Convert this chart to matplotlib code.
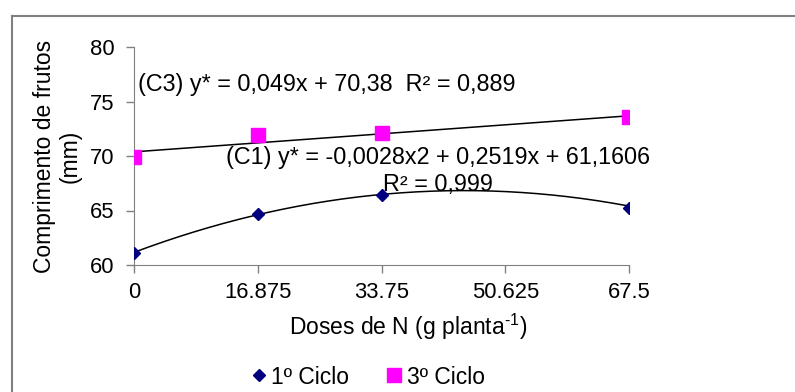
import numpy as np
import matplotlib.pyplot as plt
from matplotlib.lines import Line2D

plt.rcParams['font.family'] = ['Liberation Sans', 'DejaVu Sans']
plt.rcParams['mathtext.fontset'] = 'custom'
plt.rcParams['mathtext.rm'] = 'Liberation Sans'
plt.rcParams['mathtext.it'] = 'Liberation Sans:italic'

# data
doses = [0, 16.875, 33.75, 67.5]
ciclo1 = [61.1, 64.7, 66.4, 65.2]
ciclo3 = [69.9, 71.9, 72.1, 73.6]
xticks = [0, 16.875, 33.75, 50.625, 67.5]
xtick_labels = ['0', '16.875', '33.75', '50.625', '67.5']
yticks = [60, 65, 70, 75, 80]

# trendline coefficients as printed on the chart
coef_c1 = [-0.0028, 0.2519, 61.1606]
coef_c3 = [0.049, 70.38]

fig = plt.figure(figsize=(7.95, 3.92), dpi=100)
ax = fig.add_axes([134 / 795, 1 - 265 / 392, (629 - 134) / 795, (265 - 47) / 392])

xs = np.linspace(0, 67.5, 200)
ax.plot(xs, np.polyval(coef_c3, xs), color='black', lw=1.1, zorder=2)
ax.plot(xs, np.polyval(coef_c1, xs), color='black', lw=1.1, zorder=2)

ax.plot(doses, ciclo1, 'D', color='#000080', ms=6.5, ls='none',
        label='1º Ciclo', zorder=3)
ax.plot(doses, ciclo3, 's', color='#FF00FF', ms=10.5, ls='none',
        label='3º Ciclo', zorder=3)

ax.set_xlim(0, 67.5)
ax.set_ylim(60, 80)
ax.set_xticks(xticks)
ax.set_xticklabels(xtick_labels)
ax.set_yticks(yticks)
ax.tick_params(labelsize=15.8, color='#808080', length=6, width=1)
ax.tick_params(axis='x', pad=6)
ax.tick_params(axis='y', pad=8)

for side in ['top', 'right']:
    ax.spines[side].set_visible(False)
for side in ['left', 'bottom']:
    ax.spines[side].set_color('#808080')

ax.set_xlabel('Doses de N (g planta$^{\\text{-}1}$)', fontsize=16.5)
ax.xaxis.set_label_coords((408 - 134) / 495, -0.215)
ax.set_ylabel('Comprimento de frutos\n(mm)', fontsize=16.5, labelpad=6,
              linespacing=1.12)

ax.text(0.6, 76.6, '(C3) y* = 0,049x + 70,38  R² = 0,889', fontsize=16.8,
        va='center', ha='left')
ax.text(12.6, 69.9, '(C1) y* = -0,0028x2 + 0,2519x + 61,1606', fontsize=16.8,
        va='center', ha='left')
ax.text(41.5, 67.4, 'R² = 0,999', fontsize=16.8, va='center', ha='center')

ax.legend(loc='center', bbox_to_anchor=(367 / 795, 1 - 377 / 392),
          bbox_transform=fig.transFigure, ncol=2, frameon=False,
          fontsize=16.5, handletextpad=0.15, columnspacing=1.55,
          handlelength=0.8, borderaxespad=0)

# outer chart-area frame (extends past the image on right and bottom)
x0 = 11.5 / 795
y0 = 1 - 15.5 / 392
fig.add_artist(Line2D([x0, x0], [0, y0], color='#808080', lw=1.5))
fig.add_artist(Line2D([x0, 1], [y0, y0], color='#808080', lw=1.5))

fig.savefig('out.png', dpi=100)
